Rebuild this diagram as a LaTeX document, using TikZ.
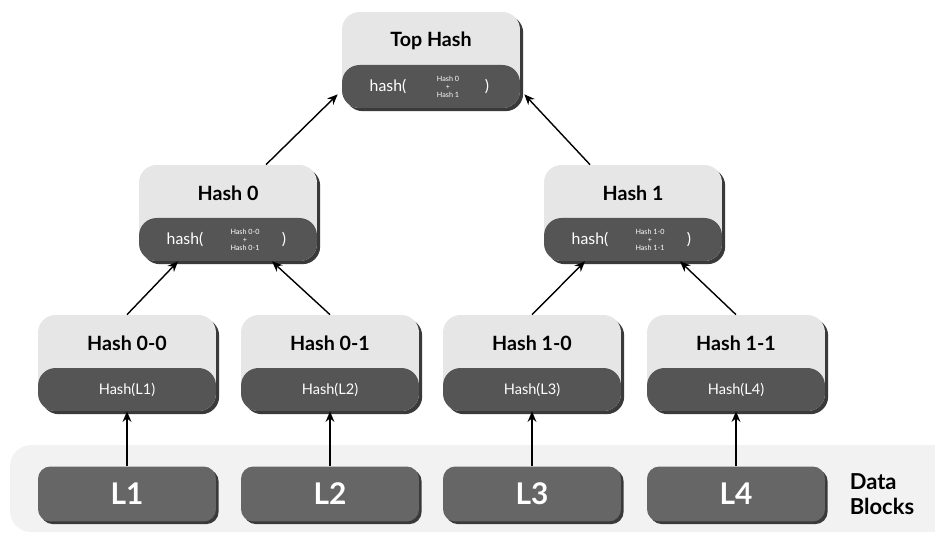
\documentclass[tikz,border=0pt]{standalone}
\usepackage{fontspec}
\setmainfont{Lato}
\usepackage{tikz}
\usetikzlibrary{shadows}
\usetikzlibrary{positioning}
\usetikzlibrary{arrows.meta,shapes}
\usetikzlibrary{calc}
\definecolor{hashlight}{HTML}{E6E6E6}
\definecolor{hashdark}{HTML}{555555}
\definecolor{blockgray}{HTML}{666666}
\definecolor{shadowgray}{HTML}{3A3A3A}
\definecolor{databg}{HTML}{F2F2F2}
\tikzstyle{hashbox}=[rectangle,rounded corners=10pt,fill=hashlight,minimum width=3.56cm,minimum height=1.92cm,inner sep=0pt,drop shadow={shadow xshift=1.8pt,shadow yshift=-1.8pt,fill=shadowgray,opacity=1}]
\tikzstyle{hashbar}=[rectangle,rounded corners=10pt,fill=hashdark,minimum width=3.56cm,minimum height=0.86cm,inner sep=0pt,text=white,font=\fontsize{8.3}{9.5}\selectfont]
\tikzstyle{title}=[font=\bfseries\fontsize{11.2}{13}\selectfont]
\tikzstyle{bartext}=[text=white,font=\fontsize{9}{10}\selectfont,inner sep=0pt]
\tikzstyle{tinytext}=[text=white,font=\fontsize{4.1}{4.5}\selectfont,align=center,inner sep=0pt]
\tikzstyle{block}=[rectangle,rounded corners=7pt,fill=blockgray,minimum width=3.56cm,minimum height=1.1cm,text=white,font=\bfseries\fontsize{17}{19}\selectfont,drop shadow={shadow xshift=1.5pt,shadow yshift=-1.5pt,fill=shadowgray,opacity=1}]
\tikzstyle{edge} = [draw,line width=0.8pt,-{Stealth[length=6pt,width=5pt]}]

\begin{document}
\begin{tikzpicture}

  \def\u{0.02};
  \useasboundingbox (0,0) rectangle (935*\u,-535*\u);

  % data block strip
  \fill[databg, rounded corners=12pt] (10*\u,-445*\u) rectangle (960*\u,-532*\u);
  \node[font=\bfseries\fontsize{12.5}{14.5}\selectfont, align=left, inner sep=0pt] (datalbl) at (882*\u,-494*\u) {Data\\Blocks};

  % inner hash nodes
  \foreach \x/\y/\name/\label/\ha/\hb in {431/60/top/Top Hash/Hash 0/Hash 1, 228/213/h0/Hash 0/Hash 0-0/Hash 0-1, 633/213/h1/Hash 1/Hash 1-0/Hash 1-1}
  {
    \node[hashbox] (\name) at (\x*\u, -\y*\u) {};
    \node[hashbar, anchor=south] (\name-bar) at (\name.south) {};
    \node[title] (\name-title) at ($(\name.north)+(0,-0.58)$) {\label};
    \node[bartext] (\name-open) at ($(\name-bar.center)+(-0.86,0)$) {hash(};
    \node[tinytext] (\name-sum) at ($(\name-bar.center)+(0.34,0)$) {\ha\\+\\\hb};
    \node[bartext] (\name-close) at ($(\name-bar.center)+(1.12,0)$) {)};
  }

  % leaf hashes and data blocks
  \foreach \x/\name/\label/\leaf in {127/h00/Hash 0-0/L1, 330/h01/Hash 0-1/L2, 532/h10/Hash 1-0/L3, 736/h11/Hash 1-1/L4}
  {
    \node[hashbox] (\name) at (\x*\u, -363*\u) {};
    \node[hashbar, anchor=south] (\name-bar) at (\name.south) {Hash(\leaf)};
    \node[title] (\name-title) at ($(\name.north)+(0,-0.58)$) {\label};
    \node[block] (\leaf) at (\x*\u, -494*\u) {\leaf};
    \draw[edge] (\leaf.north) -- (\name.south);
  }

  \coordinate (h0-in0) at ($(h0.south)+(-1.0,0)$);
  \coordinate (h0-in1) at ($(h0.south)+(0.88,0)$);
  \coordinate (h1-in0) at ($(h1.south)+(-0.96,0)$);
  \coordinate (h1-in1) at ($(h1.south)+(0.94,0)$);
  \coordinate (top-in0) at ($(top.south west)+(-0.08,0.28)$);
  \coordinate (top-in1) at ($(top.south east)+(0.08,0.28)$);
  \coordinate (h0-out) at ($(h0.north)+(0.76,0)$);
  \coordinate (h1-out) at ($(h1.north)+(-0.86,0)$);

  \foreach \source/ \dest in {h00.north/h0-in0, h01.north/h0-in1, h10.north/h1-in0, h11.north/h1-in1, h0-out/top-in0, h1-out/top-in1}
         \draw[edge] (\source) -- (\dest);

\end{tikzpicture}
\end{document}
